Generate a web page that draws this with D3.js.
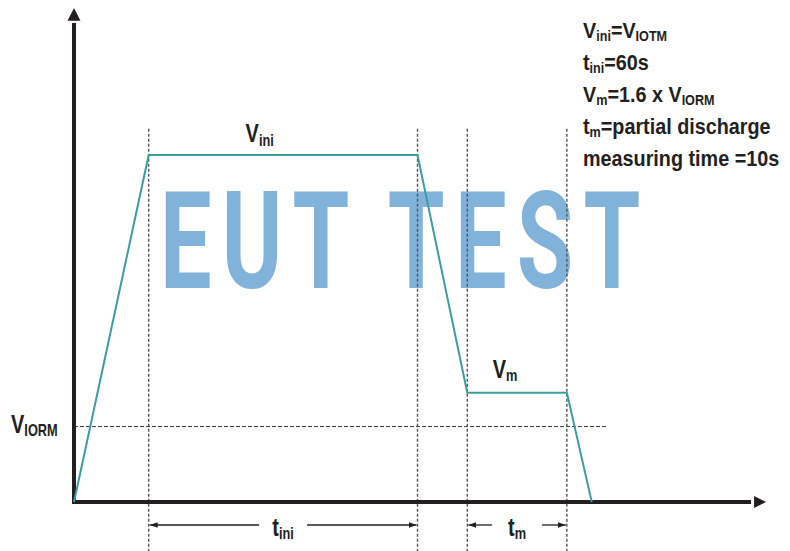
<!DOCTYPE html>
<html>
<head>
<meta charset="utf-8">
<script src="https://cdn.jsdelivr.net/npm/d3@7/dist/d3.min.js"></script>
<style>
  html, body { margin: 0; padding: 0; background: #fff; }
  svg text { font-family: "Liberation Sans", Arial, sans-serif; font-weight: bold; fill: #231f20; }
</style>
</head>
<body>
<div id="chart"></div>
<script>
/**
 * CONSTANTS AND GLOBALS
 * */
const width = 790,
  height = 551;

// schematic test profile: time in arbitrary units, voltage in units of V_IORM
const profileTime = [0, 15, 69, 79, 99, 104];
const profileVolt = [0, 4.6, 4.6, 1.45, 1.45, 0];

// dashed markers
const markerTimes = [15, 69, 79, 99];
const vIorm = 1;
const vIormEnd = 107.2;

// dimension arrows: [from, to, label, subscript]
const spans = [
  [15, 69, "t", "ini"],
  [79, 99, "t", "m"]
];

// level labels
const levelLabels = [
  { t: 37.3, v: 4.77, main: "V", sub: "ini" },
  { t: 86.6, v: 1.65, main: "V", sub: "m" }
];

// notes in the top right corner, each a list of [text, isSubscript]
const notes = [
  [["V", 0], ["ini", 1], ["=V", 0], ["IOTM", 1]],
  [["t", 0], ["ini", 1], ["=60s", 0]],
  [["V", 0], ["m", 1], ["=1.6 x V", 0], ["IORM", 1]],
  [["t", 0], ["m", 1], ["=partial discharge", 0]],
  [["measuring time =10s", 0]]
];
const noteY = [38, 70, 102, 134, 166];

const watermark = "EUT TEST";

/**
 * SCALES
 * */
const xScale = d3.scaleLinear().domain([0, 139]).range([74, 766]);
const yScale = d3.scaleLinear().domain([0, 6.55]).range([502, 8]);

const svg = d3
  .select("#chart")
  .append("svg")
  .attr("width", width)
  .attr("height", height);

const defs = svg.append("defs");
defs
  .append("marker")
  .attr("id", "dim-arrow")
  .attr("viewBox", "0 0 10 10")
  .attr("refX", 10)
  .attr("refY", 5)
  .attr("markerWidth", 8)
  .attr("markerHeight", 8)
  .attr("markerUnits", "userSpaceOnUse")
  .attr("orient", "auto-start-reverse")
  .append("path")
  .attr("d", "M0,1.5 L10,5 L0,8.5 Z")
  .attr("fill", "#231f20");

// WATERMARK (behind everything)
svg
  .append("text")
  .attr("class", "watermark")
  .attr("transform", `translate(160,288) scale(0.68,1)`)
  .style("font-family", "Roboto, 'DejaVu Sans', sans-serif")
  .style("font-weight", "bold")
  .style("font-size", "135px")
  .style("letter-spacing", "15px")
  .style("fill", "#80b2da")
  .text(watermark);

// VERTICAL DASHED MARKERS
svg
  .selectAll(".marker")
  .data(markerTimes)
  .join("line")
  .attr("class", "marker")
  .attr("x1", d => xScale(d))
  .attr("x2", d => xScale(d))
  .attr("y1", yScale(4.95))
  .attr("y2", height)
  .attr("stroke", "#555")
  .attr("stroke-width", 1.4)
  .attr("stroke-dasharray", "3,2");

// V_IORM DASHED LEVEL
svg
  .append("line")
  .attr("x1", xScale(0))
  .attr("x2", xScale(vIormEnd))
  .attr("y1", yScale(vIorm))
  .attr("y2", yScale(vIorm))
  .attr("stroke", "#3a3a3a")
  .attr("stroke-width", 1)
  .attr("stroke-dasharray", "4,2");

// AXES (arrows)
const axisColor = "#231f20";
svg
  .append("line")
  .attr("x1", xScale(0))
  .attr("x2", xScale(0))
  .attr("y1", yScale(0) + 2)
  .attr("y2", yScale(6.35))
  .attr("stroke", axisColor)
  .attr("stroke-width", 4);
svg
  .append("path")
  .attr("d", `M${xScale(0)},${yScale(6.55)} L${xScale(0) - 6.5},${yScale(6.38)} L${xScale(0) + 6.5},${yScale(6.38)} Z`)
  .attr("fill", axisColor);

svg
  .append("line")
  .attr("x1", xScale(0) - 2)
  .attr("x2", xScale(136))
  .attr("y1", yScale(0))
  .attr("y2", yScale(0))
  .attr("stroke", axisColor)
  .attr("stroke-width", 4);
svg
  .append("path")
  .attr("d", `M${xScale(139)},${yScale(0)} L${xScale(136.6)},${yScale(0) - 6} L${xScale(136.6)},${yScale(0) + 6} Z`)
  .attr("fill", axisColor);

// TEST PROFILE
const profile = profileTime.map((t, i) => ({ t, v: profileVolt[i] }));
const line = d3
  .line()
  .x(d => xScale(d.t))
  .y(d => yScale(d.v));

svg
  .append("path")
  .datum(profile)
  .attr("d", line)
  .attr("fill", "none")
  .attr("stroke", "#3a9ea1")
  .attr("stroke-width", 2)
  .attr("stroke-linejoin", "miter");

// RICH TEXT HELPER (main text + subscripts, horizontally condensed)
function richText(x, y, parts, size, squeeze, anchor) {
  const subSize = Math.round(size * 0.64);
  const text = svg
    .append("text")
    .attr("transform", `translate(${x},${y}) scale(${squeeze},1)`)
    .attr("text-anchor", anchor || "start");
  let down = false;
  parts.forEach(([txt, isSub]) => {
    const ts = text.append("tspan").text(txt);
    if (isSub) {
      ts.style("font-size", `${subSize}px`);
      if (!down) ts.attr("dy", size * 0.13);
      down = true;
    } else {
      ts.style("font-size", `${size}px`);
      if (down) ts.attr("dy", -size * 0.13);
      down = false;
    }
  });
  return text;
}

// LEVEL LABELS
levelLabels.forEach(d => {
  richText(xScale(d.t), yScale(d.v), [[d.main, 0], [d.sub, 1]], 25, 0.8, "middle");
});
richText(11, yScale(vIorm) + 6, [["V", 0], ["IORM", 1]], 25, 0.8);

// DIMENSION ARROWS
const dimY = 525;
spans.forEach(([a, b, main, sub]) => {
  const x0 = xScale(a),
    x1 = xScale(b),
    mid = (x0 + x1) / 2;
  const gap = sub.length > 1 ? 24 : 25;
  svg
    .append("line")
    .attr("x1", mid - gap)
    .attr("x2", x0 + 1)
    .attr("y1", dimY)
    .attr("y2", dimY)
    .attr("stroke", axisColor)
    .attr("stroke-width", 1.3)
    .attr("marker-end", "url(#dim-arrow)");
  svg
    .append("line")
    .attr("x1", mid + gap)
    .attr("x2", x1 - 1)
    .attr("y1", dimY)
    .attr("y2", dimY)
    .attr("stroke", axisColor)
    .attr("stroke-width", 1.3)
    .attr("marker-end", "url(#dim-arrow)");
  richText(mid, 536, [[main, 0], [sub, 1]], 25, 0.8, "middle");
});

// NOTES
notes.forEach((parts, i) => {
  richText(583, noteY[i], parts, 22, 0.9);
});
</script>
</body>
</html>
